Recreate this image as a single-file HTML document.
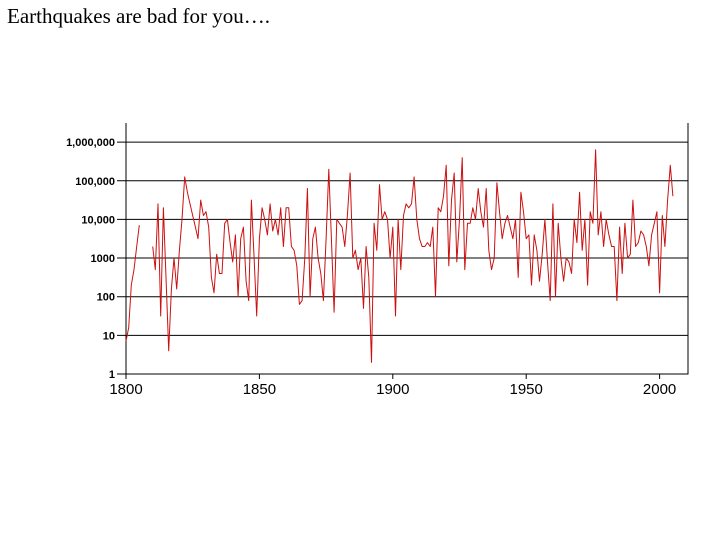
<!DOCTYPE html>
<html><head><meta charset="utf-8"><style>
html,body{margin:0;padding:0;background:#fff;width:720px;height:540px;overflow:hidden}
#title{position:absolute;left:7px;top:4px;font-family:"Liberation Serif",serif;font-size:21px;color:#000;white-space:nowrap}
svg{position:absolute;left:0;top:0}
</style></head><body>
<div id="title">Earthquakes are bad for you….</div>
<svg id="chart" width="720" height="540"></svg>
<script>
const startYear = 1800;
const logDeaths = [0.85,1.2,2.3,2.7,3.3,3.85,null,null,null,null,
3.3,2.7,4.4,1.5,4.3,2.5,0.6,2.2,3.0,2.2,
3.2,4.0,5.1,4.7,4.4,4.1,3.8,3.5,4.5,4.1,
4.2,3.8,2.5,2.1,3.1,2.6,2.6,3.9,4.0,3.4,
2.9,3.6,2.0,3.5,3.8,2.4,1.9,4.5,3.0,1.5,
3.5,4.3,4.0,3.6,4.4,3.7,4.0,3.6,4.3,3.3,
4.3,4.3,3.3,3.2,2.8,1.8,1.9,3.0,4.8,2.0,
3.5,3.8,3.0,2.6,1.9,3.5,5.3,3.5,1.6,4.0,
3.9,3.8,3.3,4.1,5.2,3.0,3.2,2.7,3.0,1.7,
3.3,2.5,0.3,3.9,3.2,4.9,4.0,4.2,4.0,3.0,
3.8,1.5,4.0,2.7,4.1,4.4,4.3,4.4,5.1,4.0,
3.5,3.3,3.3,3.4,3.3,3.8,2.0,4.3,4.2,4.6,
5.4,2.8,4.5,5.2,2.9,4.0,5.6,2.7,3.9,3.9,
4.3,4.0,4.8,4.2,3.8,4.8,3.2,2.7,3.0,4.95,
4.2,3.5,3.9,4.1,3.8,3.5,4.0,2.5,4.7,4.2,
3.5,3.6,2.3,3.6,3.2,2.4,3.1,4.0,2.9,1.9,
4.4,2.0,3.9,3.0,2.4,3.0,2.9,2.6,4.0,3.4,
4.7,3.2,4.0,2.3,4.2,3.9,5.8,3.6,4.2,3.3,
4.0,3.6,3.3,3.3,1.9,3.8,2.6,3.9,3.0,3.1,
4.5,3.3,3.4,3.7,3.6,3.3,2.8,3.6,3.9,4.2,
2.1,4.1,3.3,4.5,5.4,4.6];
const yTickLabels = ["1","10","100","1000","10,000","100,000","1,000,000"];
const xTickYears = [1800,1850,1900,1950,2000];

const svg = document.getElementById('chart');
const NS = 'http://www.w3.org/2000/svg';
const X0 = 126, XR = 688, YB = 374, YT = 123;
function xs(year){ return 126 + (year - 1800) * 2.668; }
function ys(lg){ return 374 - lg * 38.65; }
function mk(tag, attrs){ const e = document.createElementNS(NS, tag); for (const k in attrs) e.setAttribute(k, attrs[k]); svg.appendChild(e); return e; }

yTickLabels.forEach((lab, i) => {
  const y = ys(i);
  const g = mk('line', {x1:117, x2:XR, y1:y, y2:y, stroke:'#000', 'stroke-width':1});
  
  
  const t = mk('text', {x:115, y:y + 4, 'text-anchor':'end', 'font-family':'Liberation Sans, sans-serif', 'font-size':11, 'font-weight':'bold', fill:'#000'});
  t.textContent = lab;
  
  
});

const ax = mk('path', {d:`M${X0},${YT}V${YB}H${XR}V${YT}`, fill:'none', stroke:'#000', 'stroke-width':1});



xTickYears.forEach(yr => {
  const x = xs(yr);
  const tk = mk('line', {x1:x, x2:x, y1:YB, y2:YB + 5, stroke:'#000'});
  
  
  const t = mk('text', {x:x, y:YB + 20, 'text-anchor':'middle', 'font-family':'Liberation Sans, sans-serif', 'font-size':15, fill:'#000'});
  t.textContent = yr;
  
  
});

let d = '', pen = false;
logDeaths.forEach((v, i) => {
  if (v === null) { pen = false; return; }
  d += (pen ? 'L' : 'M') + xs(startYear + i).toFixed(1) + ',' + ys(v).toFixed(1);
  pen = true;
});
const line = mk('path', {d:d, fill:'none', stroke:'#cc1010', 'stroke-width':1, 'stroke-linejoin':'round'});


</script>
</body></html>
